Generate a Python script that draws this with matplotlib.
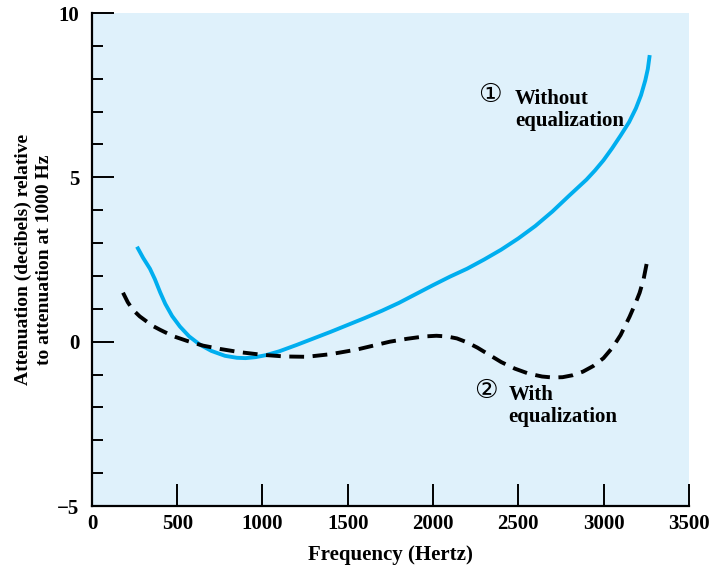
import numpy as np
import matplotlib.pyplot as plt
from matplotlib.ticker import MultipleLocator

# curve 1: without equalization
freq_without = [264, 300, 340, 369, 400, 430, 470, 516, 570, 633, 700, 780, 850, 900,
                960, 1020, 1100, 1200, 1300, 1400, 1500, 1600, 1700, 1800, 1900, 2000,
                2100, 2200, 2300, 2400, 2500, 2600, 2700, 2800, 2900, 2950, 3000, 3050,
                3100, 3150, 3190, 3220, 3245, 3260, 3271]
atten_without = [2.89, 2.55, 2.22, 1.90, 1.50, 1.15, 0.78, 0.46, 0.16, -0.09, -0.28,
                 -0.43, -0.49, -0.50, -0.47, -0.41, -0.29, -0.10, 0.10, 0.30, 0.51,
                 0.72, 0.94, 1.18, 1.45, 1.72, 1.98, 2.22, 2.50, 2.80, 3.14, 3.52,
                 3.96, 4.45, 4.93, 5.21, 5.52, 5.88, 6.27, 6.68, 7.10, 7.50, 7.95,
                 8.30, 8.72]

# curve 2: with equalization
freq_with = [182, 210, 240, 280, 322, 360, 400, 475, 560, 651, 750, 868, 1000, 1130,
             1260, 1400, 1553, 1650, 1747, 1850, 1950, 2020, 2080, 2140, 2200, 2260,
             2330, 2400, 2480, 2560, 2640, 2702, 2760, 2820, 2880, 2940, 3000, 3054,
             3100, 3153, 3190, 3212, 3235, 3253]
atten_with = [1.49, 1.20, 0.97, 0.77, 0.61, 0.47, 0.36, 0.17, 0.02, -0.12, -0.22,
              -0.32, -0.40, -0.45, -0.46, -0.38, -0.24, -0.12, 0.00, 0.09, 0.16, 0.18,
              0.16, 0.10, -0.02, -0.18, -0.40, -0.62, -0.82, -0.97, -1.06, -1.09,
              -1.08, -1.02, -0.91, -0.74, -0.50, -0.17, 0.20, 0.76, 1.20, 1.49, 1.90,
              2.37]

plt.rcParams['font.family'] = ['Liberation Serif', 'DejaVu Sans']
plt.rcParams['font.weight'] = 'bold'

fig = plt.figure(figsize=(7.13, 5.71), dpi=100)
ax = fig.add_axes([0.129, 0.1138, 0.837, 0.8634])
ax.set_facecolor('#dff1fb')

ax.plot(freq_without, atten_without, color='#00aeef', lw=2.8, solid_capstyle='butt',
        solid_joinstyle='round')
ax.plot(freq_with, atten_with, color='black', lw=2.8, dashes=(3.8, 2.2))

ax.set_xlim(0, 3500)
ax.set_ylim(-5, 10)
ax.xaxis.set_major_locator(MultipleLocator(500))
ax.yaxis.set_major_locator(MultipleLocator(5))
ax.yaxis.set_minor_locator(MultipleLocator(1))

for side in ['top', 'right']:
    ax.spines[side].set_visible(False)
for side in ['left', 'bottom']:
    ax.spines[side].set_linewidth(1.6)

ax.tick_params(axis='both', which='major', direction='in', length=16, width=1.4,
               labelsize=15, pad=6)
ax.tick_params(axis='y', which='minor', direction='in', length=8, width=1.4)
ax.tick_params(axis='y', which='major', pad=9)
for lbl in ax.get_xticklabels() + ax.get_yticklabels():
    lbl.set_fontweight('bold')

ax.set_xlabel('Frequency (Hertz)', fontsize=15, fontweight='bold', labelpad=8)
ax.set_ylabel('Attenuation (decibels) relative\nto attenuation at 1000 Hz',
              fontsize=14, fontweight='bold', labelpad=3, linespacing=1.3)

ax.text(2333, 7.5, '\u2460', fontsize=19, ha='center', va='center',
        family=['DejaVu Sans'], fontweight='normal')
ax.text(2480, 7.05, 'Without\nequalization', fontsize=15, fontweight='bold',
        ha='left', va='center', linespacing=1.15)
ax.text(2310, -1.5, '\u2461', fontsize=19, ha='center', va='center',
        family=['DejaVu Sans'], fontweight='normal')
ax.text(2444, -1.95, 'With\nequalization', fontsize=15, fontweight='bold',
        ha='left', va='center', linespacing=1.15)

fig.savefig('out.png', dpi=100)
